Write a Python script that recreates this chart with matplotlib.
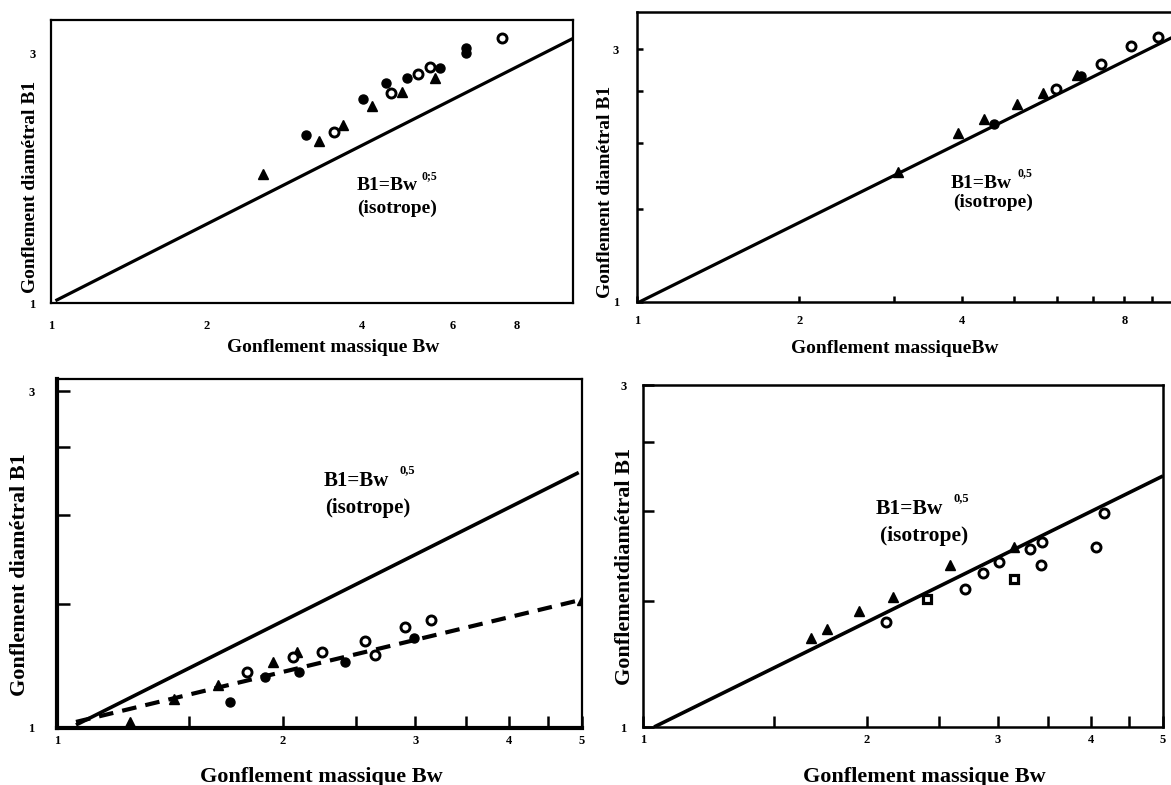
import matplotlib
matplotlib.use("Agg")
import matplotlib.pyplot as plt
from matplotlib.ticker import FixedLocator, FixedFormatter, NullFormatter

plt.rcParams['font.family'] = ['Liberation Serif', 'DejaVu Serif']
plt.rcParams['font.weight'] = 'bold'

W, H = 1171, 785

# ---------------- data ----------------
# Panel A (top-left)
a_tri_x = [2.57, 3.31, 3.68, 4.18, 4.78, 5.55]
a_tri_y = [1.76, 2.04, 2.19, 2.38, 2.53, 2.69]
a_fil_x = [3.12, 4.02, 4.46, 4.90, 5.66, 6.37, 6.37]
a_fil_y = [2.09, 2.45, 2.63, 2.69, 2.81, 3.07, 3.00]
a_opn_x = [3.54, 4.55, 5.13, 5.41, 7.47]
a_opn_y = [2.12, 2.52, 2.74, 2.82, 3.20]
a_line_x = [1.02, 10.26]
a_line_y = [1.01, 3.20]

# Panel B (top-right)
b_tri_x = [3.04, 3.94, 4.39, 5.07, 5.66, 6.54]
b_tri_y = [1.76, 2.09, 2.22, 2.37, 2.48, 2.68]
b_fil_x = [4.59, 6.65]
b_fil_y = [2.17, 2.67]
b_opn_x = [5.99, 7.24, 8.23, 9.25]
b_opn_y = [2.53, 2.82, 3.04, 3.16]
b_line_x = [1.01, 10.5]
b_line_y = [1.0, 3.27]

# Panel C (bottom-left)
c_tri_x = [1.25, 1.43, 1.64, 1.94, 2.09, 5.00]
c_tri_y = [1.02, 1.10, 1.15, 1.24, 1.28, 1.52]
c_fil_x = [1.70, 1.89, 2.10, 2.42, 2.99]
c_fil_y = [1.09, 1.18, 1.20, 1.24, 1.34]
c_opn_x = [1.79, 2.06, 2.25, 2.57, 2.65, 2.91, 3.15]
c_opn_y = [1.20, 1.26, 1.28, 1.33, 1.27, 1.39, 1.42]
c_line_x = [1.06, 4.95]
c_line_y = [1.01, 2.30]
c_dash_x = [1.06, 5.00]
c_dash_y = [1.02, 1.52]

# Panel D (bottom-right)
d_tri_x = [1.68, 1.77, 1.95, 2.17, 2.59, 3.15]
d_tri_y = [1.33, 1.37, 1.45, 1.52, 1.68, 1.78]
d_sq_x = [2.41, 3.15]
d_sq_y = [1.51, 1.61]
d_opn_x = [2.12, 2.71, 2.86, 3.01, 3.31, 3.43, 3.44, 4.06, 4.16]
d_opn_y = [1.40, 1.56, 1.64, 1.70, 1.77, 1.68, 1.81, 1.78, 1.99]
d_line_x = [1.035, 5.0]
d_line_y = [1.0, 2.24]

fig = plt.figure(figsize=(W / 100, H / 100), dpi=100)


def add_ax(l, t, r, b):
    return fig.add_axes([l / W, 1 - b / H, (r - l) / W, (b - t) / H])


def ftext(x, y, s, size, **kw):
    fig.text(x / W, 1 - y / H, s, fontsize=size, fontweight='bold',
             va='center', ha='left', **kw)


def setup(ax, xlim, ylim, xt, xtl, yt, ytl, xminor, yminor, ticklen,
          xlabel, ylabel, xl_pos, yl_pos, lsize, xpad, ypad):
    ax.set_xscale('log')
    ax.set_yscale('log')
    ax.set_xlim(*xlim)
    ax.set_ylim(*ylim)
    ax.xaxis.set_major_locator(FixedLocator(xt))
    ax.xaxis.set_major_formatter(FixedFormatter(xtl))
    ax.yaxis.set_major_locator(FixedLocator(yt))
    ax.yaxis.set_major_formatter(FixedFormatter(ytl))
    ax.xaxis.set_minor_locator(FixedLocator(xminor))
    ax.yaxis.set_minor_locator(FixedLocator(yminor))
    ax.xaxis.set_minor_formatter(NullFormatter())
    ax.yaxis.set_minor_formatter(NullFormatter())
    ax.tick_params(axis='x', which='major', direction='in', length=ticklen,
                   width=1.8, pad=xpad, labelsize=9)
    ax.tick_params(axis='y', which='major', direction='in', length=ticklen,
                   width=1.8, pad=ypad, labelsize=9)
    ax.tick_params(which='minor', direction='in', length=ticklen, width=1.8)
    for lab in ax.get_xticklabels() + ax.get_yticklabels():
        lab.set_fontweight('bold')
    ax.set_xlabel(xlabel, fontsize=lsize, fontweight='bold')
    ax.set_ylabel(ylabel, fontsize=lsize, fontweight='bold')
    ax.xaxis.set_label_coords(*xl_pos)
    ax.yaxis.set_label_coords(*yl_pos)
    ax.xaxis.label.set_va('center')
    ax.yaxis.label.set_va('center')


tri_kw = dict(marker='^', color='black', ms=6.5, ls='none')
fil_kw = dict(marker='o', color='black', ms=6.5, ls='none')
opn_kw = dict(marker='o', mfc='white', mec='black', mew=2.1, ms=6.5, ls='none')
sq_kw = dict(marker='s', mfc='white', mec='black', mew=2.3, ms=6, ls='none')

# ---------------- Panel A ----------------
axA = add_ax(51, 20, 573, 303)
setup(axA, (1, 10.26), (1, 3.47), [1, 2, 4, 6, 8], ['1', '2', '4', '6', '8'],
      [1, 3], ['1', '3'], [], [], 0,
      'Gonflement massique Bw', 'Gonflement diamétral B1',
      (0.54, -0.159), (-0.04, 0.41), 14, 12, 11)
axA.plot(a_line_x, a_line_y, color='black', lw=2.3, solid_capstyle='butt')
axA.plot(a_tri_x, a_tri_y, **tri_kw)
axA.plot(a_fil_x, a_fil_y, **fil_kw)
axA.plot(a_opn_x, a_opn_y, **opn_kw)
for s in axA.spines.values():
    s.set_linewidth(1.6)
ftext(357, 186, 'B1=Bw', 14)
ftext(422, 176, '0;5', 8.5)
ftext(357, 208, '(isotrope)', 14)

# ---------------- Panel B ----------------
axB = add_ax(637, 12, 1188, 302)
setup(axB, (1, 10.5), (1, 3.53), [1, 2, 4, 8], ['1', '2', '4', '8'],
      [1, 3], ['1', '3'], [3, 5, 6, 7, 9], [1.5, 2, 2.5], 4,
      'Gonflement massiqueBw', 'Gonflement diamétral B1',
      (0.468, -0.159), (-0.057, 0.38), 14, 9, 13)
axB.plot(b_line_x, b_line_y, color='black', lw=2.3, solid_capstyle='butt')
axB.plot(b_tri_x, b_tri_y, **tri_kw)
axB.plot(b_fil_x, b_fil_y, **fil_kw)
axB.plot(b_opn_x, b_opn_y, **opn_kw)
for s in axB.spines.values():
    s.set_linewidth(1.8)
ftext(951, 184, 'B1=Bw', 14)
ftext(1017, 173, '0,5', 8.5)
ftext(953, 202, '(isotrope)', 14)

# ---------------- Panel C ----------------
axC = add_ax(57, 379, 582, 728)
setup(axC, (1, 5.0), (1, 3.12), [1, 2, 3, 4, 5], ['1', '2', '3', '4', '5'],
      [1, 3], ['1', '3'], [1.5, 2.5, 3.5, 4.5], [1.5, 2, 2.5], 9,
      'Gonflement massique Bw', 'Gonflement diamétral B1',
      (0.503, -0.14), (-0.07, 0.44), 16, 5, 16)
axC.plot(c_line_x, c_line_y, color='black', lw=2.6, solid_capstyle='butt')
axC.plot(c_dash_x, c_dash_y, color='black', lw=3, ls=(0, (3.5, 2.2)))
axC.plot(c_tri_x, c_tri_y, **tri_kw)
axC.plot(c_fil_x, c_fil_y, **fil_kw)
axC.plot(c_opn_x, c_opn_y, **opn_kw)
axC.spines['left'].set_linewidth(3)
axC.spines['bottom'].set_linewidth(3)
axC.spines['top'].set_linewidth(1.6)
axC.spines['right'].set_linewidth(1.6)
ftext(324, 481, 'B1=Bw', 15)
ftext(399, 470, '0,5', 9)
ftext(325, 508, '(isotrope)', 15)

# ---------------- Panel D ----------------
axD = add_ax(643, 385, 1163, 727)
setup(axD, (1, 5.0), (1, 3.0), [1, 2, 3, 4, 5], ['1', '2', '3', '4', '5'],
      [1, 3], ['1', '3'], [1.5, 2.5, 3.5, 4.5], [1.5, 2, 2.5], 8,
      'Gonflement massique Bw', 'Gonflementdiamétral B1',
      (0.542, -0.146), (-0.035, 0.47), 16, 5, 12)
axD.plot(d_line_x, d_line_y, color='black', lw=2.6, solid_capstyle='butt')
axD.plot(d_tri_x, d_tri_y, **tri_kw)
axD.plot(d_sq_x, d_sq_y, **sq_kw)
axD.plot(d_opn_x, d_opn_y, **opn_kw)
for s in axD.spines.values():
    s.set_linewidth(1.8)
ftext(876, 509, 'B1=Bw', 15.5)
ftext(953, 498, '0,5', 9)
ftext(880, 536, '(isotrope)', 15.5)

fig.savefig('out.png', dpi=100)
